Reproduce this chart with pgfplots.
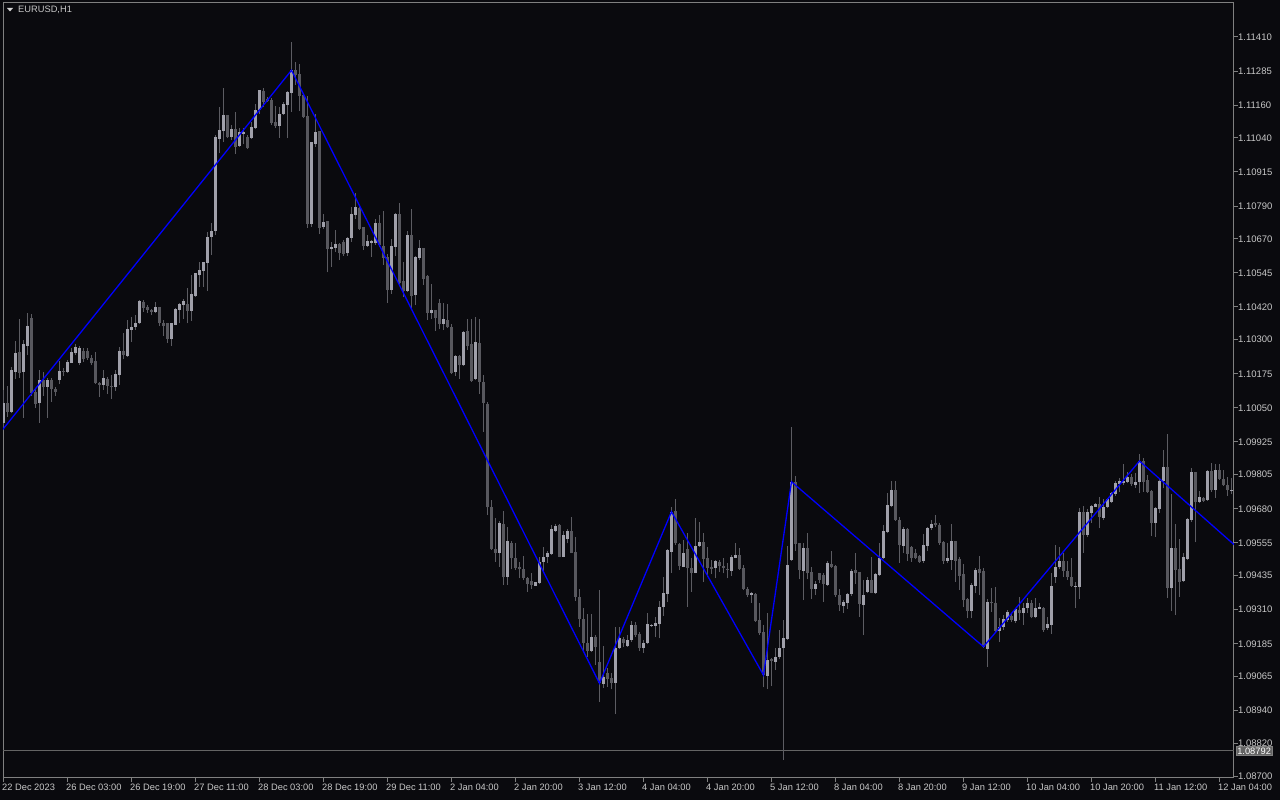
\documentclass[border=0pt]{standalone}
\usepackage{pgfplots}
\pgfplotsset{compat=1.18}
\usepackage{pgfplotstable}
\usepackage{fontspec}
\setmainfont{Liberation Sans}
\definecolor{bg}{RGB}{10,10,14}
\definecolor{framec}{RGB}{128,128,128}
\definecolor{txt}{RGB}{200,200,200}
\definecolor{bull}{RGB}{160,160,170}
\definecolor{bear}{RGB}{88,88,94}
\definecolor{wick}{RGB}{92,92,98}
\definecolor{zz}{RGB}{0,0,255}
\definecolor{hline}{RGB}{100,100,100}

\pgfplotstableread{
x o h l c
0 1.09996 1.10116 1.09980 1.10069
1 1.10069 1.10130 1.10018 1.10035
2 1.10035 1.10201 1.10031 1.10189
3 1.10183 1.10295 1.10156 1.10252
4 1.10255 1.10377 1.10160 1.10179
5 1.10182 1.10299 1.10013 1.10284
6 1.10277 1.10399 1.10244 1.10350
7 1.10380 1.10394 1.10094 1.10106
8 1.10109 1.10123 1.10050 1.10064
9 1.10069 1.10189 1.09996 1.10152
10 1.10152 1.10183 1.10094 1.10127
11 1.10128 1.10160 1.10013 1.10152
12 1.10152 1.10160 1.10073 1.10119
13 1.10120 1.10128 1.10094 1.10109
14 1.10152 1.10223 1.10138 1.10185
15 1.10185 1.10196 1.10167 1.10182
16 1.10183 1.10226 1.10178 1.10219
17 1.10216 1.10270 1.10215 1.10256
18 1.10250 1.10284 1.10244 1.10274
19 1.10216 1.10277 1.10207 1.10270
20 1.10260 1.10270 1.10218 1.10228
21 1.10260 1.10270 1.10226 1.10232
22 1.10232 1.10244 1.10207 1.10213
23 1.10223 1.10256 1.10137 1.10142
24 1.10142 1.10146 1.10089 1.10134
25 1.10135 1.10189 1.10116 1.10160
26 1.10157 1.10164 1.10101 1.10131
27 1.10130 1.10171 1.10083 1.10126
28 1.10126 1.10189 1.10113 1.10174
29 1.10172 1.10274 1.10134 1.10260
30 1.10260 1.10324 1.10228 1.10245
31 1.10240 1.10372 1.10238 1.10340
32 1.10336 1.10382 1.10291 1.10348
33 1.10346 1.10391 1.10336 1.10362
34 1.10360 1.10446 1.10358 1.10441
35 1.10438 1.10446 1.10402 1.10416
36 1.10421 1.10428 1.10399 1.10409
37 1.10409 1.10414 1.10390 1.10403
38 1.10403 1.10438 1.10399 1.10421
39 1.10421 1.10421 1.10350 1.10362
40 1.10362 1.10372 1.10314 1.10350
41 1.10360 1.10360 1.10289 1.10304
42 1.10304 1.10362 1.10278 1.10360
43 1.10355 1.10416 1.10353 1.10414
44 1.10409 1.10436 1.10362 1.10431
45 1.10428 1.10448 1.10375 1.10443
46 1.10431 1.10489 1.10360 1.10406
47 1.10406 1.10537 1.10370 1.10468
48 1.10460 1.10546 1.10458 1.10544
49 1.10537 1.10586 1.10494 1.10556
50 1.10553 1.10586 1.10494 1.10585
51 1.10582 1.10696 1.10480 1.10678
52 1.10678 1.10729 1.10611 1.10700
53 1.10700 1.11051 1.10683 1.11044
54 1.11037 1.11152 1.10984 1.11069
55 1.11065 1.11223 1.11025 1.11124
56 1.11124 1.11124 1.11039 1.11043
57 1.11043 1.11087 1.11032 1.11073
58 1.11073 1.11134 1.10982 1.11008
59 1.11011 1.11075 1.11008 1.11063
60 1.11055 1.11077 1.11017 1.11063
61 1.11043 1.11051 1.10999 1.11004
62 1.11039 1.11097 1.11036 1.11081
63 1.11075 1.11163 1.11073 1.11141
64 1.11142 1.11216 1.11129 1.11216
65 1.11212 1.11222 1.11154 1.11173
66 1.11183 1.11191 1.11173 1.11175
67 1.11180 1.11185 1.11087 1.11096
68 1.11097 1.11158 1.11077 1.11085
69 1.11085 1.11154 1.11041 1.11128
70 1.11128 1.11173 1.11124 1.11164
71 1.11161 1.11212 1.11039 1.11208
72 1.11206 1.11392 1.11136 1.11288
73 1.11288 1.11317 1.11234 1.11271
74 1.11273 1.11310 1.11139 1.11195
75 1.11197 1.11200 1.11112 1.11118
76 1.11120 1.11195 1.10711 1.10724
77 1.10724 1.11026 1.10714 1.11026
78 1.11019 1.11127 1.11007 1.11061
79 1.11064 1.11064 1.10687 1.10711
80 1.10713 1.10760 1.10706 1.10731
81 1.10735 1.10735 1.10547 1.10634
82 1.10633 1.10657 1.10568 1.10640
83 1.10636 1.10702 1.10622 1.10651
84 1.10651 1.10654 1.10592 1.10617
85 1.10659 1.10666 1.10607 1.10614
86 1.10617 1.10676 1.10607 1.10673
87 1.10673 1.10786 1.10659 1.10761
88 1.10758 1.10839 1.10744 1.10786
89 1.10782 1.10788 1.10702 1.10705
90 1.10712 1.10714 1.10629 1.10645
91 1.10644 1.10683 1.10641 1.10662
92 1.10656 1.10666 1.10604 1.10663
93 1.10654 1.10742 1.10647 1.10729
94 1.10729 1.10757 1.10641 1.10646
95 1.10644 1.10773 1.10574 1.10599
96 1.10604 1.10614 1.10436 1.10482
97 1.10482 1.10668 1.10468 1.10644
98 1.10641 1.10766 1.10607 1.10761
99 1.10761 1.10800 1.10504 1.10509
100 1.10516 1.10586 1.10456 1.10479
101 1.10479 1.10700 1.10476 1.10684
102 1.10684 1.10778 1.10415 1.10460
103 1.10464 1.10607 1.10427 1.10604
104 1.10599 1.10666 1.10592 1.10635
105 1.10635 1.10635 1.10501 1.10522
106 1.10534 1.10537 1.10372 1.10399
107 1.10399 1.10504 1.10375 1.10409
108 1.10409 1.10409 1.10333 1.10379
109 1.10436 1.10450 1.10338 1.10358
110 1.10358 1.10435 1.10336 1.10376
111 1.10372 1.10431 1.10342 1.10346
112 1.10346 1.10358 1.10174 1.10179
113 1.10182 1.10244 1.10167 1.10240
114 1.10240 1.10244 1.10157 1.10206
115 1.10206 1.10333 1.10204 1.10328
116 1.10331 1.10375 1.10262 1.10277
117 1.10284 1.10377 1.10145 1.10150
118 1.10155 1.10382 1.10152 1.10293
119 1.10287 1.10375 1.10101 1.10146
120 1.10146 1.10171 1.09963 1.10069
121 1.10064 1.10073 1.09657 1.09685
122 1.09688 1.09712 1.09529 1.09531
123 1.09534 1.09646 1.09486 1.09519
124 1.09517 1.09636 1.09468 1.09627
125 1.09624 1.09673 1.09401 1.09429
126 1.09431 1.09612 1.09401 1.09563
127 1.09556 1.09563 1.09458 1.09498
128 1.09500 1.09553 1.09456 1.09462
129 1.09465 1.09486 1.09425 1.09458
130 1.09458 1.09507 1.09419 1.09425
131 1.09425 1.09431 1.09375 1.09404
132 1.09414 1.09446 1.09387 1.09399
133 1.09397 1.09413 1.09397 1.09412
134 1.09409 1.09502 1.09404 1.09485
135 1.09485 1.09541 1.09453 1.09504
136 1.09504 1.09526 1.09480 1.09519
137 1.09515 1.09621 1.09511 1.09606
138 1.09600 1.09624 1.09596 1.09617
139 1.09621 1.09624 1.09502 1.09504
140 1.09504 1.09600 1.09502 1.09584
141 1.09569 1.09605 1.09553 1.09599
142 1.09599 1.09649 1.09517 1.09519
143 1.09522 1.09575 1.09343 1.09358
144 1.09358 1.09385 1.09248 1.09275
145 1.09277 1.09315 1.09156 1.09187
146 1.09187 1.09294 1.09138 1.09160
147 1.09160 1.09294 1.09156 1.09211
148 1.09211 1.09217 1.09107 1.09174
149 1.09118 1.09382 1.08973 1.09040
150 1.09037 1.09177 1.09022 1.09064
151 1.09079 1.09095 1.09028 1.09057
152 1.09059 1.09079 1.09018 1.09042
153 1.09042 1.09248 1.08927 1.09168
154 1.09169 1.09248 1.09165 1.09205
155 1.09201 1.09209 1.09172 1.09187
156 1.09178 1.09217 1.09174 1.09199
157 1.09199 1.09270 1.09193 1.09254
158 1.09254 1.09266 1.09209 1.09218
159 1.09221 1.09229 1.09160 1.09169
160 1.09169 1.09199 1.09152 1.09189
161 1.09189 1.09299 1.09184 1.09257
162 1.09251 1.09257 1.09248 1.09255
163 1.09251 1.09282 1.09209 1.09262
164 1.09257 1.09343 1.09205 1.09321
165 1.09319 1.09429 1.09287 1.09371
166 1.09368 1.09531 1.09339 1.09529
167 1.09523 1.09685 1.09446 1.09669
168 1.09672 1.09715 1.09547 1.09553
169 1.09551 1.09556 1.09456 1.09470
170 1.09468 1.09566 1.09465 1.09519
171 1.09531 1.09592 1.09321 1.09462
172 1.09462 1.09498 1.09376 1.09446
173 1.09446 1.09645 1.09443 1.09544
174 1.09544 1.09632 1.09539 1.09558
175 1.09558 1.09592 1.09413 1.09497
176 1.09498 1.09539 1.09429 1.09462
177 1.09465 1.09492 1.09441 1.09460
178 1.09463 1.09492 1.09425 1.09489
179 1.09485 1.09492 1.09449 1.09470
180 1.09470 1.09498 1.09443 1.09463
181 1.09460 1.09482 1.09425 1.09456
182 1.09453 1.09511 1.09434 1.09502
183 1.09500 1.09556 1.09498 1.09512
184 1.09511 1.09535 1.09456 1.09460
185 1.09463 1.09474 1.09382 1.09385
186 1.09387 1.09394 1.09355 1.09365
187 1.09365 1.09375 1.09336 1.09372
188 1.09368 1.09370 1.09266 1.09270
189 1.09272 1.09333 1.09217 1.09223
190 1.09228 1.09253 1.09025 1.09070
191 1.09068 1.09297 1.09020 1.09125
192 1.09130 1.09134 1.09030 1.09121
193 1.09118 1.09168 1.09089 1.09138
194 1.09138 1.09235 1.09128 1.09169
195 1.09168 1.09272 1.08759 1.09205
196 1.09204 1.09544 1.09199 1.09474
197 1.09492 1.09981 1.09490 1.09779
198 1.09779 1.09800 1.09526 1.09551
199 1.09553 1.09556 1.09421 1.09456
200 1.09453 1.09556 1.09345 1.09536
201 1.09536 1.09590 1.09421 1.09443
202 1.09448 1.09468 1.09350 1.09387
203 1.09387 1.09414 1.09363 1.09404
204 1.09443 1.09446 1.09407 1.09419
205 1.09436 1.09443 1.09339 1.09404
206 1.09401 1.09490 1.09397 1.09480
207 1.09478 1.09524 1.09463 1.09468
208 1.09470 1.09474 1.09358 1.09365
209 1.09365 1.09385 1.09306 1.09326
210 1.09323 1.09345 1.09299 1.09338
211 1.09336 1.09372 1.09314 1.09368
212 1.09368 1.09460 1.09360 1.09453
213 1.09456 1.09517 1.09404 1.09443
214 1.09448 1.09448 1.09284 1.09331
215 1.09328 1.09419 1.09217 1.09365
216 1.09375 1.09429 1.09370 1.09419
217 1.09419 1.09504 1.09370 1.09372
218 1.09370 1.09443 1.09368 1.09441
219 1.09437 1.09553 1.09434 1.09498
220 1.09498 1.09619 1.09495 1.09599
221 1.09595 1.09737 1.09590 1.09695
222 1.09690 1.09783 1.09685 1.09749
223 1.09749 1.09783 1.09636 1.09639
224 1.09639 1.09651 1.09482 1.09547
225 1.09544 1.09614 1.09517 1.09605
226 1.09605 1.09608 1.09490 1.09514
227 1.09541 1.09544 1.09486 1.09498
228 1.09517 1.09531 1.09495 1.09500
229 1.09507 1.09509 1.09482 1.09486
230 1.09490 1.09588 1.09482 1.09546
231 1.09544 1.09614 1.09526 1.09610
232 1.09610 1.09639 1.09602 1.09624
233 1.09629 1.09657 1.09614 1.09621
234 1.09621 1.09627 1.09548 1.09556
235 1.09558 1.09563 1.09478 1.09490
236 1.09490 1.09553 1.09482 1.09500
237 1.09492 1.09624 1.09456 1.09563
238 1.09563 1.09563 1.09413 1.09490
239 1.09497 1.09502 1.09382 1.09434
240 1.09441 1.09478 1.09319 1.09345
241 1.09350 1.09353 1.09278 1.09306
242 1.09306 1.09409 1.09278 1.09401
243 1.09397 1.09462 1.09370 1.09456
244 1.09460 1.09507 1.09363 1.09446
245 1.09451 1.09462 1.09168 1.09174
246 1.09167 1.09348 1.09099 1.09338
247 1.09338 1.09388 1.09303 1.09333
248 1.09335 1.09392 1.09228 1.09233
249 1.09233 1.09278 1.09193 1.09248
250 1.09248 1.09290 1.09235 1.09277
251 1.09272 1.09309 1.09266 1.09303
252 1.09287 1.09299 1.09266 1.09272
253 1.09270 1.09315 1.09262 1.09311
254 1.09309 1.09358 1.09272 1.09299
255 1.09299 1.09333 1.09254 1.09316
256 1.09315 1.09351 1.09297 1.09336
257 1.09336 1.09345 1.09278 1.09282
258 1.09282 1.09351 1.09278 1.09316
259 1.09314 1.09336 1.09311 1.09321
260 1.09316 1.09319 1.09229 1.09235
261 1.09242 1.09284 1.09235 1.09257
262 1.09254 1.09446 1.09221 1.09397
263 1.09429 1.09547 1.09409 1.09465
264 1.09465 1.09541 1.09458 1.09490
265 1.09487 1.09517 1.09431 1.09453
266 1.09453 1.09490 1.09419 1.09431
267 1.09431 1.09498 1.09394 1.09397
268 1.09394 1.09413 1.09315 1.09397
269 1.09394 1.09682 1.09348 1.09669
270 1.09669 1.09690 1.09519 1.09584
271 1.09584 1.09678 1.09575 1.09669
272 1.09663 1.09694 1.09629 1.09690
273 1.09688 1.09702 1.09688 1.09698
274 1.09698 1.09722 1.09608 1.09649
275 1.09647 1.09715 1.09639 1.09688
276 1.09687 1.09721 1.09682 1.09716
277 1.09706 1.09743 1.09700 1.09737
278 1.09733 1.09782 1.09728 1.09776
279 1.09772 1.09794 1.09743 1.09782
280 1.09773 1.09843 1.09767 1.09782
281 1.09779 1.09814 1.09773 1.09798
282 1.09798 1.09806 1.09765 1.09769
283 1.09767 1.09810 1.09757 1.09778
284 1.09777 1.09880 1.09737 1.09855
285 1.09855 1.09865 1.09743 1.09779
286 1.09786 1.09804 1.09737 1.09743
287 1.09745 1.09749 1.09581 1.09629
288 1.09629 1.09688 1.09578 1.09682
289 1.09679 1.09789 1.09663 1.09782
290 1.09782 1.09896 1.09755 1.09833
291 1.09833 1.09953 1.09352 1.09388
292 1.09388 1.09734 1.09306 1.09535
293 1.09535 1.09624 1.09290 1.09456
294 1.09459 1.09569 1.09358 1.09413
295 1.09415 1.09517 1.09411 1.09503
296 1.09496 1.09645 1.09492 1.09643
297 1.09640 1.09828 1.09633 1.09816
298 1.09816 1.09816 1.09557 1.09704
299 1.09706 1.09745 1.09700 1.09724
300 1.09721 1.09724 1.09704 1.09709
301 1.09712 1.09822 1.09709 1.09819
302 1.09819 1.09847 1.09743 1.09749
303 1.09749 1.09843 1.09721 1.09822
304 1.09822 1.09843 1.09786 1.09789
305 1.09789 1.09822 1.09765 1.09767
306 1.09767 1.09798 1.09728 1.09748
307 1.09745 1.09794 1.09733 1.09749
}\candles

\begin{document}
\begin{tikzpicture}[x=1pt,y=1pt]
\fill[bg] (0,0) rectangle (1280,800);
\begin{axis}[
  at={(3pt,22pt)}, anchor=south west,
  width=1231pt, height=775pt, scale only axis,
  xmin=-0.125, xmax=307.625,
  ymin=1.086927, ymax=1.115347,
  enlargelimits=false,
  axis line style={framec, line width=1pt},
  tick style={framec, line width=1pt},
  tick align=outside,
  major tick length=4pt,
  xtick pos=bottom, ytick pos=right,
  yticklabel pos=right,
  xtick={0,16,32,48,64,80,96,112,128,144,160,176,192,208,224,240,256,272,288,304},
  xticklabels={22 Dec 2023,26 Dec 03:00,26 Dec 19:00,27 Dec 11:00,28 Dec 03:00,28 Dec 19:00,29 Dec 11:00,2 Jan 04:00,2 Jan 20:00,3 Jan 12:00,4 Jan 04:00,4 Jan 20:00,5 Jan 12:00,8 Jan 04:00,8 Jan 20:00,9 Jan 12:00,10 Jan 04:00,10 Jan 20:00,11 Jan 12:00,12 Jan 04:00},
  ytick={1.11410,1.11285,1.11160,1.11040,1.10915,1.10790,1.10670,1.10545,1.10420,1.10300,1.10175,1.10050,1.09925,1.09805,1.09680,1.09555,1.09435,1.09310,1.09185,1.09065,1.08940,1.08820,1.08700},
  yticklabels={1.11410,1.11285,1.11160,1.11040,1.10915,1.10790,1.10670,1.10545,1.10420,1.10300,1.10175,1.10050,1.09925,1.09805,1.09680,1.09555,1.09435,1.09310,1.09185,1.09065,1.08940,1.08820,1.08700},
  xticklabel style={font=\fontsize{9.3}{10}\selectfont, text=txt, anchor=north west, inner sep=0pt, xshift=-1.5pt, yshift=-2pt},
  yticklabel style={font=\fontsize{9.5}{10}\selectfont, text=txt, anchor=west, inner sep=0pt, xshift=0pt},
  axis background/.style={fill=bg},
  clip=true,
]
% level line
\addplot[hline, line width=1pt, forget plot] coordinates {(-2,1.08792) (310,1.08792)};
% wicks
\addplot[draw=none, mark=none, forget plot,
  error bars/.cd, y dir=plus, y explicit, error mark=none,
  error bar style={draw=wick, line width=1pt, solid}]
  table[x=x, y=l, y error expr=\thisrow{h}-\thisrow{l}] {\candles};
% bull bodies
\addplot[draw=none, mark=none, forget plot,
  restrict expr to domain={\thisrow{c}-\thisrow{o}}{0:1},
  error bars/.cd, y dir=plus, y explicit, error mark=none,
  error bar style={draw=bull, line width=3pt, solid}]
  table[x=x, y=o, y error expr=\thisrow{c}-\thisrow{o}] {\candles};
% bear bodies
\addplot[draw=none, mark=none, forget plot,
  restrict expr to domain={\thisrow{o}-\thisrow{c}}{0.000001:1},
  error bars/.cd, y dir=plus, y explicit, error mark=none,
  error bar style={draw=bear, line width=3pt, solid}]
  table[x=x, y=c, y error expr=\thisrow{o}-\thisrow{c}] {\candles};
% zigzag
\addplot[zz, line width=1.3pt] coordinates {(-1,1.09956) (72,1.11288) (149,1.09040) (167,1.09669) (190,1.09070) (197,1.09779) (245,1.09174) (284,1.09855) (309,1.09531)};
\end{axis}
% symbol name
\fill[txt!80] (7,792) -- (13,792) -- (10,788.5) -- cycle;
\node[anchor=west, inner sep=0pt, text=txt, font=\fontsize{9.3}{10}\selectfont] at (18,790) {EURUSD,H1};
% level price label
\node[anchor=west, inner sep=1pt, fill=hline, draw=framec, line width=0.6pt, text=white, font=\fontsize{9.3}{10}\selectfont] at (1236,49) {1.08792};
\end{tikzpicture}
\end{document}
